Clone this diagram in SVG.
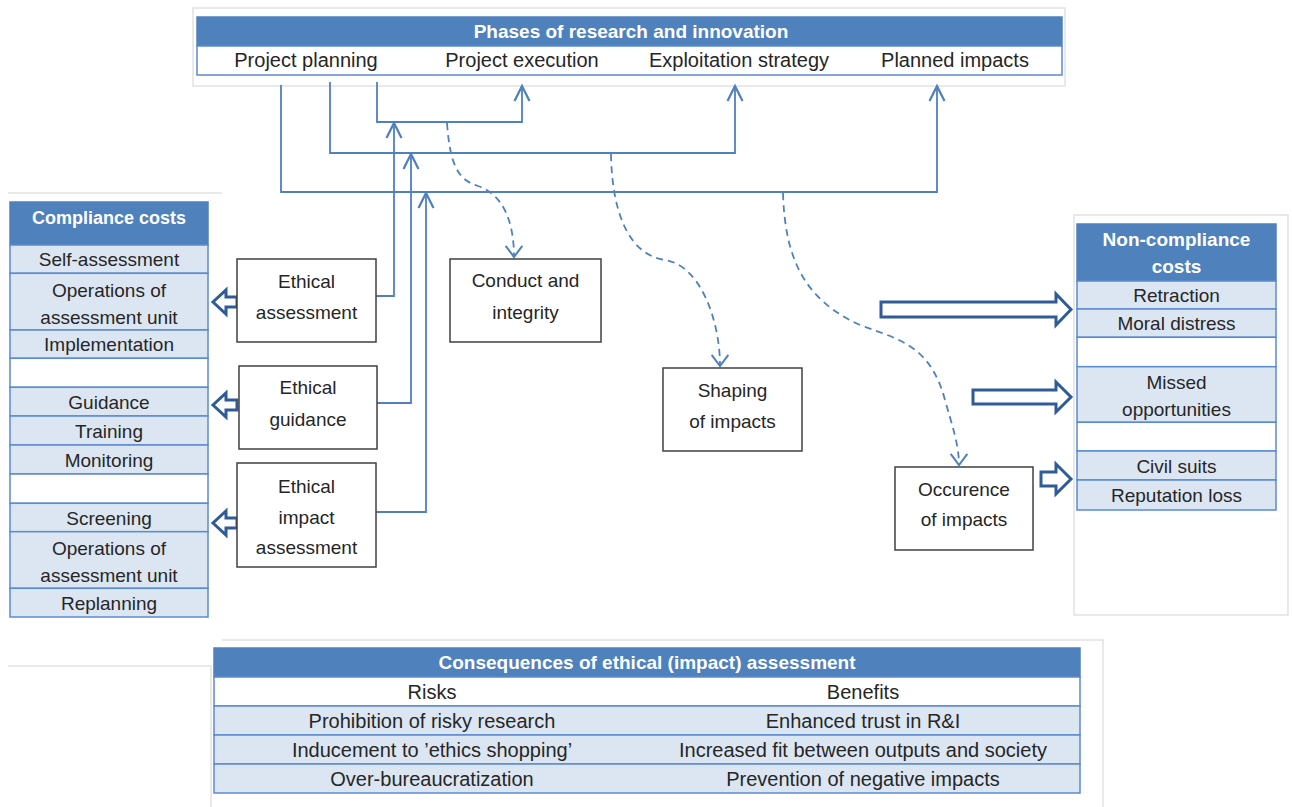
<svg xmlns="http://www.w3.org/2000/svg" width="1292" height="807" viewBox="0 0 1292 807">
<style>
.hdr{fill:#4f81bd;stroke:#4f81bd;stroke-width:1.5}
.row{fill:#dce6f2;stroke:#5b8bd0;stroke-width:1.5}
.rowb{fill:#ffffff;stroke:#5b8bd0;stroke-width:1.5}
.box{fill:#ffffff;stroke:#404040;stroke-width:1.5}
.frame{fill:none;stroke:#e2e2e2;stroke-width:1.5}
text{font-family:"Liberation Sans",Arial,sans-serif;font-size:19px;fill:#262626;text-anchor:middle}
.ht{font-weight:bold;fill:#ffffff;font-size:19px}
.ht18{font-size:18px}
.big{font-size:20px}
.conn{fill:none;stroke:#4f81bd;stroke-width:1.8}
.dash{stroke-dasharray:7 5}
.blk{fill:#ffffff;stroke:#2f5b96;stroke-width:3}
</style>
<defs>
<marker id="arr" markerUnits="userSpaceOnUse" markerWidth="20" markerHeight="20" refX="0" refY="0" viewBox="-14 -8 16 16" orient="auto" overflow="visible">
<path d="M-12,-6 L0,0 L-12,6" fill="none" stroke="#4f81bd" stroke-width="1.8"/>
</marker>
<marker id="arrd" markerUnits="userSpaceOnUse" markerWidth="20" markerHeight="20" refX="0" refY="0" viewBox="-14 -9 16 18" orient="auto" overflow="visible">
<path d="M-10,-7.5 L0,0 L-10,7.5" fill="none" stroke="#4f81bd" stroke-width="1.8"/>
</marker>
</defs>
<rect width="1292" height="807" fill="#ffffff"/>

<g id="frames">
<rect class="frame" x="193" y="8" width="872" height="78"/>
<line class="frame" x1="8" y1="193" x2="222" y2="193"/>
<line class="frame" x1="8" y1="666" x2="211" y2="666"/>
<polyline class="frame" points="211,807 211,666"/>
<polyline class="frame" points="222,640 1103,640 1103,807"/>
<rect class="frame" x="1074" y="215" width="214" height="400"/>
</g>

<g id="phases">
<rect class="hdr" x="197" y="17" width="865" height="29"/>
<text class="ht" x="631" y="38">Phases of research and innovation</text>
<rect class="rowb" x="197" y="46" width="865" height="29"/>
<text class="big" x="306" y="67">Project planning</text>
<text class="big" x="522" y="67">Project execution</text>
<text class="big" x="739" y="67">Exploitation strategy</text>
<text class="big" x="955" y="67">Planned impacts</text>
</g>

<g id="connectors">
<path class="conn" d="M281,85 L281,192 L937,192 L937,86" marker-end="url(#arr)"/>
<path class="conn" d="M330,82 L330,153 L735,153 L735,86" marker-end="url(#arr)"/>
<path class="conn" d="M377,82 L377,122 L522,122 L522,86" marker-end="url(#arr)"/>
<path class="conn" d="M376,296 L394,296 L394,123" marker-end="url(#arr)"/>
<path class="conn" d="M377,403 L411,403 L411,154" marker-end="url(#arr)"/>
<path class="conn" d="M376,512 L426,512 L426,193" marker-end="url(#arr)"/>
<path class="conn dash" d="M447,123 C450,165 458,180 478,186 C505,195 514,225 514,257" marker-end="url(#arrd)"/>
<path class="conn dash" d="M611,154 C612,215 630,255 665,260 C700,265 720,320 720,366" marker-end="url(#arrd)"/>
<path class="conn dash" d="M783,193 C785,260 805,300 860,325 C900,340 930,345 945,400 C952,425 959,445 959,465" marker-end="url(#arrd)"/>
<path class="blk" d="M881,302 L1056,302 L1056,294 L1071,309.5 L1056,325 L1056,317 L881,317 Z"/>
<path class="blk" d="M973,390 L1056,390 L1056,382 L1071,397 L1056,412 L1056,404 L973,404 Z"/>
<path class="blk" d="M1041,472 L1056,472 L1056,464 L1071,479 L1056,494 L1056,486 L1041,486 Z"/>
<path class="blk" d="M237,297 L226,297 L226,290 L213,302 L226,314 L226,307 L237,307 Z"/>
<path class="blk" d="M237,400 L226,400 L226,393 L213,405 L226,417 L226,410 L237,410 Z"/>
<path class="blk" d="M237,518 L226,518 L226,511 L213,523 L226,535 L226,528 L237,528 Z"/>
</g>

<g id="compliance">
<rect class="hdr" x="10" y="202" width="198" height="43"/>
<text class="ht ht18" x="109" y="224">Compliance costs</text>
<rect class="row" x="10" y="245" width="198" height="28.3"/>
<text x="109" y="266">Self-assessment</text>
<rect class="row" x="10" y="273.3" width="198" height="56.7"/>
<text x="109" y="297">Operations of</text>
<text x="109" y="324">assessment unit</text>
<rect class="row" x="10" y="330" width="198" height="28.3"/>
<text x="109" y="351">Implementation</text>
<rect class="rowb" x="10" y="358.3" width="198" height="29"/>
<rect class="row" x="10" y="387.3" width="198" height="28.7"/>
<text x="109" y="408.5">Guidance</text>
<rect class="row" x="10" y="416" width="198" height="29"/>
<text x="109" y="437.5">Training</text>
<rect class="row" x="10" y="445" width="198" height="29"/>
<text x="109" y="466.5">Monitoring</text>
<rect class="rowb" x="10" y="474" width="198" height="29.3"/>
<rect class="row" x="10" y="503.3" width="198" height="28.4"/>
<text x="109" y="524.5">Screening</text>
<rect class="row" x="10" y="531.7" width="198" height="56.6"/>
<text x="109" y="555">Operations of</text>
<text x="109" y="582">assessment unit</text>
<rect class="row" x="10" y="588.3" width="198" height="28.7"/>
<text x="109" y="609.5">Replanning</text>
</g>

<g id="ethical-assessment">
<rect class="box" x="237" y="259" width="139" height="83"/>
<text x="306.5" y="287.5">Ethical</text>
<text x="306.5" y="318.5">assessment</text>
</g>
<g id="ethical-guidance">
<rect class="box" x="239" y="366" width="138" height="83"/>
<text x="308" y="394">Ethical</text>
<text x="308" y="426">guidance</text>
</g>
<g id="ethical-impact-assessment">
<rect class="box" x="237" y="463" width="139" height="104"/>
<text x="306.5" y="493">Ethical</text>
<text x="306.5" y="523.5">impact</text>
<text x="306.5" y="554">assessment</text>
</g>
<g id="conduct">
<rect class="box" x="450" y="259" width="151" height="83"/>
<text x="525.5" y="287">Conduct and</text>
<text x="525.5" y="318.5">integrity</text>
</g>
<g id="shaping">
<rect class="box" x="663" y="368" width="139" height="83"/>
<text x="732.5" y="397">Shaping</text>
<text x="732.5" y="428">of impacts</text>
</g>
<g id="occurence">
<rect class="box" x="895" y="467" width="138" height="83"/>
<text x="964" y="496">Occurence</text>
<text x="964" y="526">of impacts</text>
</g>

<g id="noncompliance">
<rect class="hdr" x="1077" y="224" width="199" height="57"/>
<text class="ht" x="1176.5" y="246">Non-compliance</text>
<text class="ht" x="1176.5" y="273">costs</text>
<rect class="row" x="1077" y="281" width="199" height="28"/>
<text x="1176.5" y="302">Retraction</text>
<rect class="row" x="1077" y="309" width="199" height="28.3"/>
<text x="1176.5" y="330">Moral distress</text>
<rect class="rowb" x="1077" y="337.3" width="199" height="29.4"/>
<rect class="row" x="1077" y="366.7" width="199" height="55.6"/>
<text x="1176.5" y="388.5">Missed</text>
<text x="1176.5" y="415.5">opportunities</text>
<rect class="rowb" x="1077" y="422.3" width="199" height="28.7"/>
<rect class="row" x="1077" y="451" width="199" height="29"/>
<text x="1176.5" y="472.5">Civil suits</text>
<rect class="row" x="1077" y="480" width="199" height="30"/>
<text x="1176.5" y="502">Reputation loss</text>
</g>

<g id="consequences">
<rect class="hdr" x="214" y="648" width="866" height="29"/>
<text class="ht" x="647" y="669">Consequences of ethical (impact) assessment</text>
<rect class="rowb" x="214" y="677" width="866" height="29"/>
<text class="big" x="432" y="698.5">Risks</text>
<text class="big" x="863" y="698.5">Benefits</text>
<rect class="row" x="214" y="706" width="866" height="29"/>
<text class="big" x="432" y="727.5">Prohibition of risky research</text>
<text class="big" x="863" y="727.5">Enhanced trust in R&amp;I</text>
<rect class="row" x="214" y="735" width="866" height="29"/>
<text class="big" x="432" y="756.5">Inducement to ’ethics shopping’</text>
<text class="big" x="863" y="756.5">Increased fit between outputs and society</text>
<rect class="row" x="214" y="764" width="866" height="29"/>
<text class="big" x="432" y="785.5">Over-bureaucratization</text>
<text class="big" x="863" y="785.5">Prevention of negative impacts</text>
</g>
</svg>
